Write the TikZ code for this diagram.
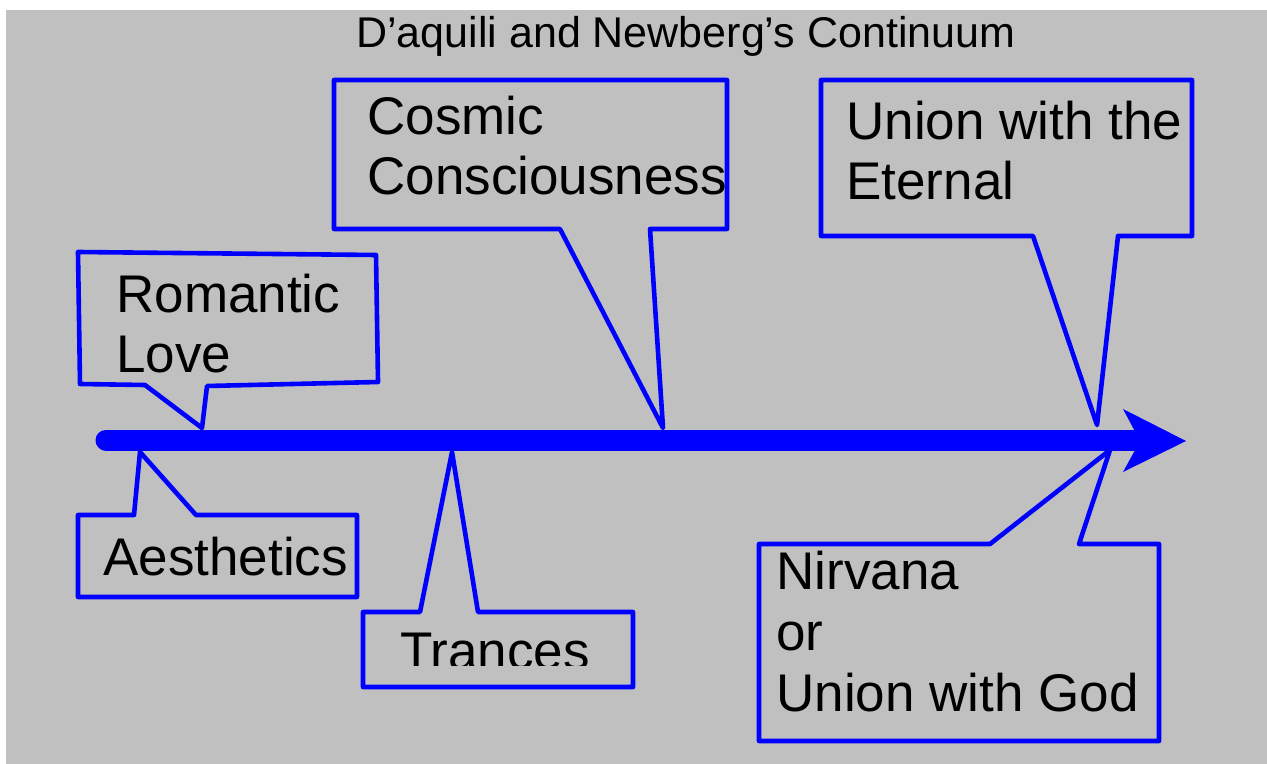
\documentclass[tikz,border=0pt]{standalone}
\usepackage{fontspec}
\setmainfont{Liberation Sans}
\usetikzlibrary{positioning}
\definecolor{calloutblue}{HTML}{0000FF}
\definecolor{slidegray}{HTML}{C0C0C0}

\tikzset{
  callout/.style={draw=calloutblue, line width=2.3pt, line join=round},
  label/.style={anchor=base west, inner sep=0pt, font=\fontsize{26.5}{31}\selectfont},
}

\begin{document}
\begin{tikzpicture}[x=0.5pt,y=-0.5pt]
\useasboundingbox (0,0) rectangle (1267,764);
\fill[slidegray] (6,10) rectangle (1267,764);
% title
\node[anchor=base west, inner sep=0pt, font=\fontsize{21.5}{26}\selectfont] (title) at (356,48) {D’aquili and Newberg’s Continuum};

% the continuum
\draw[calloutblue, line width=10.5pt, line cap=round] (106,440) -- (1138,440);
\fill[calloutblue] (1123,409) -- (1186,441) -- (1123,472) -- (1140,441) -- cycle;

% callouts above the line
\draw[callout] (78,252) -- (376,255) -- (378,382) -- (207,386) -- (202,428) -- (145,385) -- (80,384) -- cycle;
\node[label] (romantic) at (116,313) {Romantic};
\node[label] (love) at (116,372) {Love};

\draw[callout] (334,80) -- (727,80) -- (727,229) -- (650,229) -- (663,428) -- (560,229) -- (334,229) -- cycle;
\node[label] (cosmic) at (367,135) {Cosmic};
\node[label] (consc) at (367,195) {Consciousness};

\draw[callout] (821,80) -- (1192,80) -- (1192,236) -- (1118,236) -- (1097,425) -- (1033,236) -- (821,236) -- cycle;
\node[label] (union) at (846,140) {Union with the};
\node[label] (eternal) at (846,200) {Eternal};

% callouts below the line
\draw[callout] (78,515) -- (134,515) -- (140,452) -- (196,515) -- (357,515) -- (357,597) -- (78,597) -- cycle;
\node[label] (aesthetics) at (103,575) {Aesthetics};

\draw[callout] (363,612) -- (420,612) -- (452,452) -- (478,612) -- (633,612) -- (633,687) -- (363,687) -- cycle;
\begin{scope}
\clip (363,600) rectangle (633,665);
\node[label] (trances) at (400,669) {Trances};
\end{scope}

\draw[callout] (759,544) -- (990,544) -- (1110,450) -- (1079,544) -- (1159,544) -- (1159,741) -- (759,741) -- cycle;
\node[label] (nirvana) at (776,589) {Nirvana};
\node[label] (or) at (776,650) {or};
\node[label] (god) at (776,711) {Union with God};
\end{tikzpicture}
\end{document}
